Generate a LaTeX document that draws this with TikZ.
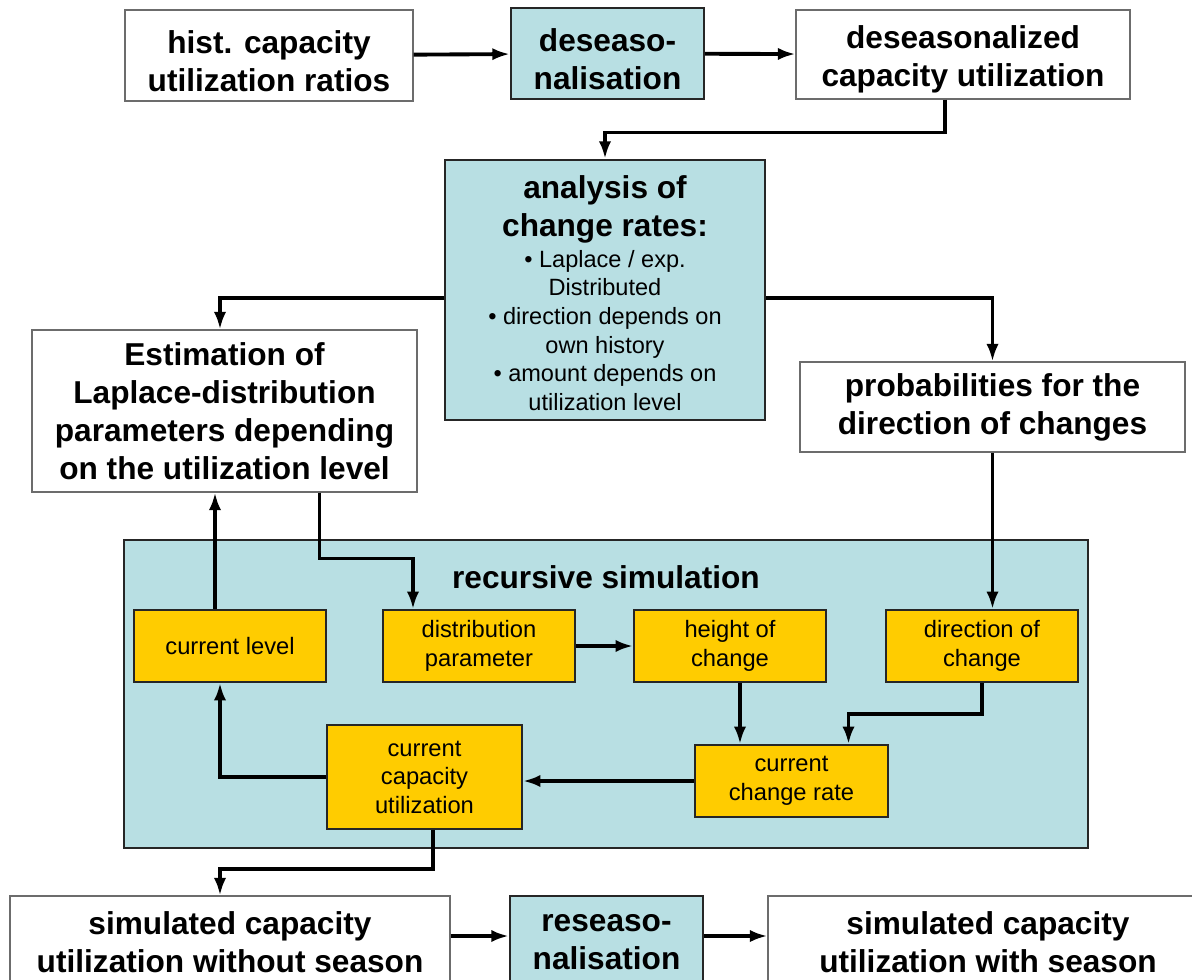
\documentclass[tikz,border=0pt]{standalone}
\usepackage{fontspec}
\setmainfont{Liberation Sans}
\usetikzlibrary{arrows.meta,positioning,calc}
\definecolor{simteal}{HTML}{B8DFE3}
\definecolor{simyellow}{HTML}{FFCC00}
\newcommand\notefont{\fontsize{13.4}{16.3}\selectfont\mdseries}

\begin{document}
\begin{tikzpicture}[
  >={Latex[length=10pt,width=7pt]},
  big/.style={font=\fontsize{18}{21.6}\selectfont\bfseries},
  small/.style={font=\fontsize{13.5}{16.2}\selectfont},
  plain/.style={draw=gray!85!black, line width=0.6pt, fill=white, align=center, inner sep=0pt, big},
  proc/.style={draw=black!85, line width=1.3pt, fill=simteal, align=center, inner sep=0pt, big},
  sub/.style={draw=black!85, line width=1pt, fill=simyellow, align=center, inner sep=0pt, small,
    minimum width=3.84cm, minimum height=1.44cm},
  arr/.style={->, line width=2.2pt}
]
\useasboundingbox (0,0) rectangle (23.84,-19.6);

% top row
\node[plain, minimum width=5.76cm, minimum height=1.82cm] (hist) at (5.38,-1.11) {\rule{0pt}{19pt}hist. capacity\\utilization ratios};
\node[proc, minimum width=3.86cm, minimum height=1.82cm] (deseas) at (12.15,-1.07) {\rule{0pt}{19pt}deseaso-\\nalisation};
\node[plain, minimum width=6.68cm, minimum height=1.78cm] (desutil) at (19.26,-1.09) {\rule{0pt}{19pt}deseasonalized\\capacity utilization};

% analysis
\node[proc, minimum width=6.40cm, minimum height=5.20cm] (analysis) at (12.10,-5.80)
  {\rule{0pt}{21.5pt}analysis of\\change rates:\\[1pt]
   {\notefont\begin{tabular}{@{}c@{}}
    • Laplace / exp.\\Distributed\\• direction depends on\\own history\\• amount depends on\\utilization level
   \end{tabular}}};
\node[plain, minimum width=7.70cm, minimum height=3.24cm] (estim) at (4.49,-8.22)
  {Estimation of\\Laplace-distribution\\parameters depending\\on the utilization level};
\node[plain, minimum width=7.70cm, minimum height=1.80cm] (prob) at (19.85,-8.14)
  {probabilities for the\\direction of changes};

% recursive simulation
\node[proc, minimum width=19.28cm, minimum height=6.16cm] (sim) at (12.12,-13.88) {};
\node[big, below=0.42cm of sim.north] (simtitle) {recursive simulation};
\node[sub] (level) at (4.60,-12.92) {current level};
\node[sub] (distpar) at (9.58,-12.92) {distribution\\parameter};
\node[sub] (height) at (14.60,-12.92) {height of\\change};
\node[sub] (direction) at (19.64,-12.92) {direction of\\change};
\node[sub, minimum width=3.90cm, minimum height=2.08cm] (ccu) at (8.49,-15.54) {current\\capacity\\utilization};
\node[sub, minimum width=3.86cm] (rate) at (15.83,-15.62) {current\\change rate};

% bottom row
\node[plain, minimum width=8.80cm, minimum height=1.84cm] (simwo) at (4.60,-18.84) {simulated capacity\\utilization without season};
\node[proc, minimum width=3.86cm, minimum height=1.84cm] (reseas) at (12.13,-18.84) {reseaso-\\nalisation};
\node[plain, minimum width=8.80cm, minimum height=1.84cm] (simwith) at (19.76,-18.84) {simulated capacity\\utilization with season};

\draw[arr] (hist) -- (deseas);
\draw[arr] (deseas) -- (desutil);
\draw[arr] ([xshift=-0.36cm]desutil.south) -- ++(0,-0.66) -| (analysis.north);
\draw[arr] ([yshift=-0.16cm]analysis.west) -| ([xshift=-0.09cm]estim.north);
\draw[arr] ([yshift=-0.16cm]analysis.east) -| (prob.north);
\draw[arr] ([xshift=1.9cm]estim.south) -- ++(0,-1.32) -| ([xshift=-1.32cm]distpar.north);
\draw[arr] (prob.south) -- (prob.south |- direction.north);
\draw[arr] ([xshift=-0.3cm]level.north) -- ([xshift=-0.3cm]level.north |- estim.south);
\draw[arr] (distpar) -- (height);
\draw[arr] ([xshift=0.2cm]height.south) -- ([xshift=0.2cm]height.south |- rate.north);
\draw[arr] (direction.south) -- ++(0,-0.62) -| ([xshift=1.14cm]rate.north);
\draw[arr] (rate.west) -- (rate.west -| ccu.east);
\draw[arr] (ccu.west) -| ([xshift=-0.2cm]level.south);
\draw[arr] ([xshift=0.17cm]ccu.south) -- ++(0,-0.78) -| ([xshift=-0.2cm]simwo.north);
\draw[arr] ([yshift=0.12cm]simwo.east) -- ([yshift=0.12cm]reseas.west);
\draw[arr] ([yshift=0.12cm]reseas.east) -- ([yshift=0.12cm]simwith.west);
\end{tikzpicture}
\end{document}
